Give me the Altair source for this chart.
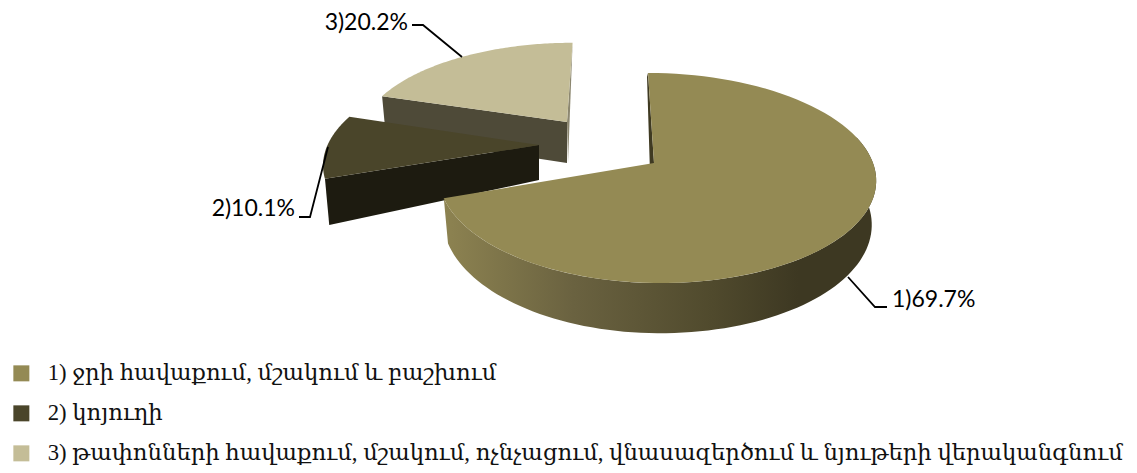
import math
import altair as alt
import pandas as pd

names = ["1) ջրի հավաքում, մշակում և բաշխում", "2) կոյուղի",
         "3) թափոնների հավաքում, մշակում, ոչնչացում, վնասազերծում և նյութերի վերականգնում"]
shares = [69.7, 10.1, 20.2]
labels = ["1)69.7%", "2)10.1%", "3)20.2%"]
face_colors = ["#948a54", "#4a452a", "#c4bd97"]
wall_colors = ["#3f3a22", "#1d1b10", "#4e4a38"]
centers = [(654, 163), (539, 145), (567, 122)]
x_scales = [1.0, 0.9655, 0.93]
y_scales = [1.0, 0.96, 0.88]
left_scales = [0.977, 1.0, 1.0]
shears = [6.0, -14.0, -6.0]
apex_depths = [43, 35, 41]
rim_depths = [43, 44, 41]
label_x = [892, 295, 408]
label_y = [300, 209, 23]
label_align = ["left", "right", "right"]
leaders = [[(848, 277), (875, 307), (887, 307)],
           [(328, 147), (310, 217), (299, 217)],
           [(462, 57), (423, 25), (412, 25)]]
R, B, K = 219.0, 102.9, 1 / 7
FONT_LABEL = "Lato"
FONT_LEGEND = "Liberation Serif, DejaVu Serif"
LEGEND_SIZE = 22.7


def rim(i, theta, low=False):
    cx, cy = centers[i]
    t = math.radians(theta)
    u, v = math.sin(t), -math.cos(t)
    s = 1 / (1 - K * v)
    x = (R * u * s + shears[i] * v) * x_scales[i]
    if u < 0:
        x *= left_scales[i]
    y = B * v * s * y_scales[i]
    if low:
        return cx + x * 0.98, cy + y + rim_depths[i] * s
    return cx + x, cy + y


def poly(points):
    return pd.DataFrame([{"x": p[0], "y": p[1], "k": n} for n, p in enumerate(points)])


angles = []
acc = 0.0
for v in shares:
    angles.append((acc, acc + v * 3.6))
    acc += v * 3.6


def sweep(i, a, b, low=False, n=90):
    return [rim(i, a + (b - a) * j / n, low) for j in range(n + 1)]


def face(i):
    a, b = angles[i]
    return [centers[i]] + sweep(i, a, b)


X = alt.X("x:Q", axis=None, scale=alt.Scale(domain=[8, 1129]))
Y = alt.Y("y:Q", axis=None, scale=alt.Scale(domain=[8, 469], reverse=True))


def shape(points, fill):
    return alt.Chart(poly(points)).mark_line(fill=fill, stroke=None, strokeWidth=0, interpolate="linear").encode(
        x=X, y=Y, order="k:Q")


legend = alt.Legend(
    title=None, orient="none", legendX=2, legendY=354, symbolType="square", symbolSize=256,
    symbolStrokeWidth=0, labelFont=FONT_LEGEND, labelFontSize=LEGEND_SIZE, labelColor="#111111",
    labelLimit=1200, rowPadding=16, labelOffset=15, symbolOffset=0,
)


def face_layer(i):
    df = poly(face(i)).assign(name=names[i])
    return alt.Chart(df).mark_line(stroke=None, strokeWidth=0).encode(
        x=X, y=Y, order="k:Q",
        fill=alt.Fill("name:N", scale=alt.Scale(domain=names, range=face_colors), legend=legend, sort=names),
    )


def flat_wall(i, theta):
    cx, cy = centers[i]
    return [centers[i], rim(i, theta), rim(i, theta, True), (cx, cy + apex_depths[i])]


gradient = alt.Gradient(
    gradient="linear", x1=0, x2=1, y1=0, y2=0,
    stops=[alt.GradientStop(color="#8d8351", offset=0),
           alt.GradientStop(color="#6a6240", offset=0.3),
           alt.GradientStop(color="#504a2d", offset=0.62),
           alt.GradientStop(color="#3d3822", offset=0.82),
           alt.GradientStop(color="#3d3822", offset=1)],
)

big_a, big_b = angles[0]
big_wall = sweep(0, 75, big_b) + sweep(0, 75, big_b, True)[::-1]
cx0, cy0 = centers[0]
big_inner = [rim(0, 0), centers[0], (cx0 - 4, cy0 + 10), (rim(0, 0)[0] - 1, rim(0, 0)[1] + 4)]
s3_inner = [rim(2, 360), centers[2], (centers[2][0] + 1, centers[2][1] + apex_depths[2])]

layers = [
    shape(s3_inner, "#8c8770"),
    shape(flat_wall(2, angles[2][0]), wall_colors[2]),
    face_layer(2),
    shape(flat_wall(1, angles[1][0]), wall_colors[1]),
    face_layer(1),
    shape(big_inner, wall_colors[0]),
    shape(big_wall, gradient),
    face_layer(0),
]

for i, pts in enumerate(leaders):
    layers.append(alt.Chart(poly(pts)).mark_line(color="#000000", strokeWidth=1.8).encode(x=X, y=Y, order="k:Q"))
    layers.append(alt.Chart(pd.DataFrame({"x": [label_x[i]], "y": [label_y[i]], "t": [labels[i]]})).mark_text(
        font=FONT_LABEL, fontSize=23, color="#000000", align=label_align[i], baseline="middle").encode(x=X, y=Y, text="t:N"))

chart = alt.layer(*layers).resolve_scale(fill="shared").properties(
    width=1121, height=461, padding=0, autosize=alt.AutoSizeParams(type="none"),
).configure_view(stroke=None)

chart.save("out.html", embed_options={"renderer": "svg", "actions": False})
